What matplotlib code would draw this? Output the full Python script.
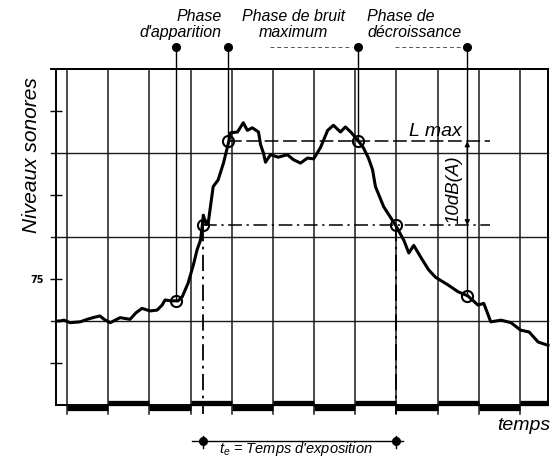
import matplotlib
matplotlib.use("Agg")
import matplotlib.pyplot as plt

plt.rcParams['font.family'] = ['Liberation Sans', 'DejaVu Sans']
plt.rcParams['mathtext.fontset'] = 'custom'
plt.rcParams['mathtext.it'] = 'Liberation Sans:italic'
plt.rcParams['mathtext.rm'] = 'Liberation Sans'

# ---- data (time in grid units, level in dB(A)) ----
time = [-0.22, -0.17, -0.07, 0.07, 0.32, 0.49, 0.63, 0.80, 0.90, 1.05, 1.17, 1.29,
        1.53, 1.68, 1.82, 2.02, 2.19, 2.31, 2.38, 2.55, 2.70, 2.80, 2.94, 3.07,
        3.16, 3.24, 3.28, 3.31, 3.38, 3.43, 3.55, 3.67, 3.80, 3.92, 3.97, 4.14,
        4.28, 4.38, 4.50, 4.65, 4.70, 4.77, 4.82, 4.94, 5.13, 5.35, 5.50, 5.67,
        5.84, 5.99, 6.16, 6.33, 6.47, 6.64, 6.76, 6.89, 6.96, 7.08, 7.20, 7.32,
        7.42, 7.49, 7.69, 7.98, 8.18, 8.30, 8.42, 8.59, 8.78, 8.95, 9.25, 9.49,
        9.73, 9.98, 10.12, 10.29, 10.54, 10.78, 11.02, 11.22, 11.44, 11.68]
level = [70.0, 70.0, 70.1, 69.8, 69.9, 70.2, 70.4, 70.6, 70.2, 69.8, 70.1, 70.4,
         70.2, 71.0, 71.5, 71.2, 71.3, 71.9, 72.5, 72.4, 72.4, 72.9, 74.5, 76.7,
         78.5, 79.6, 81.1, 82.6, 81.5, 81.7, 86.0, 86.8, 88.8, 91.2, 92.4, 92.5,
         93.6, 92.7, 93.0, 92.5, 91.0, 90.0, 88.9, 89.8, 89.5, 89.8, 89.2, 88.8,
         89.4, 89.3, 90.7, 92.7, 93.3, 92.5, 93.1, 92.5, 92.1, 91.4, 90.6, 89.4,
         88.0, 86.0, 83.6, 81.4, 79.6, 78.1, 79.0, 77.6, 76.1, 75.2, 74.3, 73.5,
         73.0, 71.9, 72.1, 69.9, 70.1, 69.8, 68.9, 68.7, 67.5, 67.1]

phase_times = [2.64, 3.92, 7.06, 9.72]
phase_levels = [72.4, 91.4, 91.4, 73.0]
phase_labels = ["Phase\nd'apparition", "Phase de bruit\nmaximum", "Phase de\ndécroissance"]
expo_times = [3.31, 7.99]
l_max = 91.4
l_10 = 81.4
grid_times = list(range(12))
grid_levels = [70, 80, 90]
bar_edges = [0, 1, 2, 3, 4, 5, 6, 7, 8, 9, 10, 11, 11.68]
bar_levels = [59.6, 60.2, 59.6, 60.2, 59.6, 60.2, 59.6, 60.2, 59.6, 60.2, 59.6, 60.2]
ytick_vals = [65, 75, 85, 95]
ytick_labels = ['', '75', '', '']

# ---- figure ----
fig = plt.figure(figsize=(5.54, 4.58), dpi=100)
ax = fig.add_axes([56/554, 53/458, 492/554, 336/458])
ax.set_xlim(-0.267, 11.68)
ax.set_ylim(60, 100)
ax.set_xticks([])
ax.set_yticks(ytick_vals)
ax.set_yticklabels(ytick_labels, fontsize=7, fontweight='bold', family='DejaVu Sans')
ax.tick_params(axis='y', direction='inout', length=9, width=1.0, pad=4)
for s in ax.spines.values():
    s.set_linewidth(1.4)
    s.set_color('black')

# grid
for t in grid_times:
    ax.plot([t, t], [58.9, 100], color='#1a1a1a', lw=1.1, clip_on=False, zorder=1)
for g in grid_levels:
    ax.plot([-0.40, 11.68], [g, g], color='#1a1a1a', lw=1.0, clip_on=False, zorder=1)
ax.plot([-0.40, 11.68], [100, 100], color='black', lw=1.4, clip_on=False, zorder=1)

# bottom time bar
for i, lv in enumerate(bar_levels):
    ax.plot([bar_edges[i], bar_edges[i+1]], [lv, lv], color='black', lw=3.8,
            solid_capstyle='butt', clip_on=False, zorder=3)

# dashed reference lines
ax.plot([phase_times[1], 10.27], [l_max, l_max], color='black', lw=1.1,
        ls=(0, (9, 3)), zorder=2)
ax.plot([expo_times[0], 10.27], [l_10, l_10], color='black', lw=1.1,
        ls=(0, (9, 3, 1.5, 3)), zorder=2)
for t in expo_times:
    ax.plot([t, t], [l_10, 58.9], color='black', lw=1.3, ls=(0, (9, 3, 1.5, 3)),
            clip_on=False, zorder=2)

# phase markers
for t, lv in zip(phase_times, phase_levels):
    ax.plot([t, t], [102.6, lv], color='black', lw=1.0, clip_on=False, zorder=2)
    ax.plot([t], [102.6], 'o', color='black', ms=5.5, clip_on=False, zorder=4)
ax.plot([4.93, 6.92], [102.6, 102.6], color='#555555', lw=0.7, ls=(0, (4, 3)), clip_on=False)
ax.plot([7.97, 9.59], [102.6, 102.6], color='#555555', lw=0.7, ls=(0, (4, 3)), clip_on=False)

# curve
ax.plot(time, level, color='black', lw=2.2, solid_joinstyle='round', zorder=5, clip_on=False)

# circles
circ_t = phase_times + expo_times
circ_l = phase_levels + [l_10, l_10]
ax.plot(circ_t, circ_l, 'o', ms=8, mfc='none', mec='black', mew=1.5, zorder=6)

# 10 dB arrow
ax.annotate('', xy=(phase_times[3], l_max), xytext=(phase_times[3], l_10),
            arrowprops=dict(arrowstyle='<|-|>', color='black', lw=1.0,
                            mutation_scale=7, shrinkA=0, shrinkB=0), zorder=7)

# texts
ax.text(3.76, 105.3, phase_labels[0], ha='right', va='center', fontsize=11.5,
        style='italic', linespacing=1.05, clip_on=False)
ax.text(5.49, 105.3, phase_labels[1], ha='center', va='center', fontsize=11.5,
        style='italic', linespacing=1.05, clip_on=False)
ax.text(7.29, 105.3, phase_labels[2], ha='left', va='center', fontsize=11.5,
        style='italic', linespacing=1.05, clip_on=False)
ax.text(-0.874, 89.8, 'Niveaux sonores', rotation=90, ha='center', va='center',
        fontsize=15, style='italic', clip_on=False)
ax.text(8.94, 92.5, 'L max', ha='center', va='center', fontsize=14,
        style='italic', clip_on=False)
ax.text(9.40, 85.6, '10dB(A)', rotation=90, ha='center', va='center', fontsize=13.5,
        style='italic', clip_on=False)
ax.text(11.09, 57.5, 'temps', ha='center', va='center', fontsize=14,
        style='italic', clip_on=False)

# exposure bracket
ax.plot([3.04, 8.16], [55.7, 55.7], color='black', lw=1.0, clip_on=False)
for t in expo_times:
    ax.plot([t, t], [56.3, 54.9], color='black', lw=1.0, clip_on=False)
    ax.plot([t], [55.7], 'o', color='black', ms=5.5, clip_on=False)
ax.text(5.55, 54.75, "$t_e$ = Temps d'exposition", ha='center', va='center',
        fontsize=10.5, style='italic', clip_on=False)

fig.savefig('out.png', dpi=100, facecolor='white')
